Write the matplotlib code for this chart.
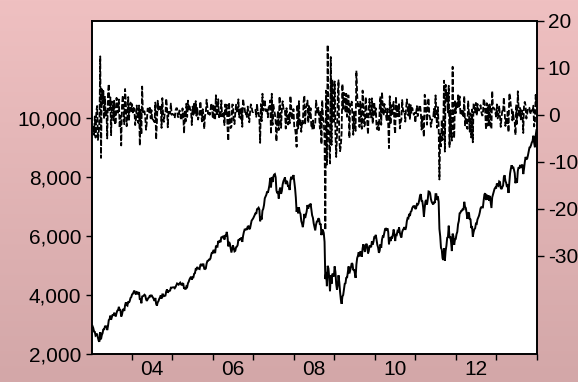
import numpy as np
import pandas as pd
import matplotlib
matplotlib.use("Agg")
import matplotlib.pyplot as plt
import matplotlib.dates as mdates
from matplotlib.colors import LinearSegmentedColormap
from matplotlib.ticker import FuncFormatter, FixedLocator

plt.rcParams["font.family"] = ["Liberation Sans", "DejaVu Sans"]
plt.rcParams["axes.unicode_minus"] = False

# ── Weekly index closes (one list per year) ──────────────────────────────────
idx_2003 = [2950, 2880, 2760, 2750, 2620, 2640, 2690, 2550, 2450, 2420, 2740, 2500,
            2640, 2704, 2845, 2820, 2930, 2925, 2955, 2810, 2950, 3150, 3180, 3300,
            3160, 3250, 3340, 3300, 3400, 3330, 3270, 3390, 3470, 3485, 3600, 3500,
            3490, 3270, 3330, 3470, 3530, 3460, 3655, 3750, 3660, 3640, 3780, 3740,
            3800, 3900, 3930]
idx_2004 = [4020, 4040, 4100, 4150, 4060, 4020, 4100, 4090, 4020, 4100, 3840, 3880,
            3720, 3950, 3960, 3980, 4010, 3985, 3860, 3800, 3850, 3900, 3920, 3990,
            3960, 4000, 3950, 3910, 3860, 3800, 3900, 3700, 3640, 3750, 3790, 3870,
            3920, 3990, 3880, 4020, 4020, 3960, 3970, 3980, 4120, 4190, 4080, 4120,
            4140, 4150, 4250, 4250, 4256]
idx_2005 = [4260, 4260, 4230, 4270, 4330, 4390, 4370, 4350, 4390, 4420, 4370, 4330,
            4390, 4380, 4210, 4250, 4190, 4290, 4270, 4400, 4450, 4530, 4580, 4620,
            4520, 4600, 4600, 4720, 4740, 4880, 4870, 4950, 4900, 4890, 4880, 5020,
            5050, 4980, 5040, 5040, 4890, 4880, 4900, 5060, 5150, 5160, 5200, 5200,
            5240, 5370, 5450, 5408]
idx_2006 = [5530, 5480, 5420, 5650, 5650, 5640, 5830, 5800, 5830, 5790, 5970, 5950,
            5970, 6010, 5880, 6010, 6010, 6140, 5970, 5650, 5800, 5740, 5580, 5440,
            5560, 5680, 5590, 5480, 5500, 5620, 5640, 5690, 5880, 5850, 5920, 5870,
            5950, 5800, 6000, 6130, 6220, 6220, 6240, 6210, 6320, 6330, 6230, 6260,
            6400, 6520, 6560, 6597]
idx_2007 = [6650, 6710, 6780, 6750, 6910, 6930, 6960, 6900, 6500, 6650, 6560, 6860,
            6920, 7050, 7280, 7340, 7400, 7510, 7470, 7590, 7730, 7970, 7650, 8000,
            7830, 8010, 8080, 8100, 7990, 7550, 7450, 7510, 7270, 7560, 7640, 7430,
            7530, 7750, 7860, 7920, 7990, 7760, 7870, 7830, 7670, 7700, 7560, 7870,
            8010, 7930, 7970, 8067]
idx_2008 = [7850, 7620, 7300, 6820, 6970, 6770, 6970, 6810, 6750, 6510, 6420, 6300,
            6480, 6750, 6610, 6720, 6840, 7050, 6930, 7060, 7000, 7100, 6900, 6700,
            6620, 6430, 6310, 6190, 6380, 6490, 6500, 6600, 6570, 6380, 6420, 6030,
            6220, 6190, 6100, 5800, 4540, 4780, 4300, 4990, 4900, 4580, 4130, 4670,
            4380, 4720, 4700, 4630]
idx_2009 = [4970, 4780, 4370, 4180, 4340, 4670, 4430, 4100, 3840, 3700, 3950, 4000,
            4190, 4380, 4400, 4600, 4580, 4770, 4970, 4730, 4840, 4940, 5080, 5050,
            4840, 4870, 4740, 4580, 5030, 5250, 5330, 5450, 5310, 5460, 5460, 5300,
            5580, 5720, 5580, 5460, 5670, 5740, 5640, 5410, 5490, 5680, 5650, 5620,
            5820, 5710, 5800, 5960]
idx_2010 = [5957, 6040, 5880, 5700, 5610, 5430, 5500, 5720, 5600, 5880, 5990, 5980,
            6120, 6240, 6250, 6180, 6260, 6140, 5720, 5950, 5830, 5950, 5940, 6050,
            6220, 6070, 5830, 6060, 6040, 6170, 6150, 6290, 6110, 6010, 5950, 6140,
            6210, 6250, 6300, 6210, 6290, 6500, 6610, 6600, 6750, 6680, 6820, 6850,
            6950, 7000, 7000, 7030, 6914]
idx_2011 = [6950, 7080, 7060, 7100, 7220, 7370, 7420, 7190, 7180, 6980, 6660, 6950,
            7180, 7220, 7070, 7250, 7510, 7500, 7450, 7260, 7160, 7110, 7070, 7160,
            7120, 7420, 7420, 7220, 7340, 7160, 6240, 5990, 5600, 5540, 5250, 5190,
            5580, 5160, 5500, 5670, 5940, 5970, 6350, 5930, 5990, 5800, 5490, 6080,
            5990, 5700, 5880, 5900]
idx_2012 = [6060, 6140, 6400, 6510, 6770, 6790, 6850, 6860, 6920, 6880, 7160, 6990,
            6950, 6780, 6580, 6770, 6800, 6560, 6580, 6270, 6340, 5980, 6130, 6230,
            6260, 6420, 6410, 6560, 6630, 6690, 6800, 6940, 6980, 6970, 6970, 7210,
            7410, 7450, 7220, 7400, 7230, 7380, 7200, 7360, 7160, 6950, 7310, 7410,
            7520, 7600, 7640, 7610]
idx_2013 = [7780, 7720, 7700, 7850, 7830, 7630, 7590, 7660, 7710, 8000, 8060, 7870,
            7800, 7660, 7740, 7460, 7810, 8120, 8280, 8400, 8300, 8350, 8250, 8130,
            7790, 7960, 7810, 8210, 8330, 8290, 8410, 8310, 8390, 8420, 8100, 8280,
            8510, 8680, 8610, 8620, 8730, 8870, 9000, 9010, 9080, 9170, 9220, 9400,
            9170, 9010, 9400, 9590]

year_ticks = [2004, 2006, 2008, 2010, 2012]
year_labels = ["04", "06", "08", "10", "12"]

close = np.array(idx_2003 + idx_2004 + idx_2005 + idx_2006 + idx_2007 + idx_2008
                 + idx_2009 + idx_2010 + idx_2011 + idx_2012 + idx_2013, dtype=float)
dates = pd.date_range("2003-01-13", periods=len(close), freq="W-MON")
# weekly log return in percent (right axis)
ret = 100 * np.diff(np.log(close))

# ── Figure with pink gradient background ─────────────────────────────────────
fig = plt.figure(figsize=(5.78, 3.82), dpi=100)
bg = fig.add_axes([0, 0, 1, 1], zorder=-10)
bg_cmap = LinearSegmentedColormap.from_list("bg", ["#efc0c1", "#d3a7a8"])
bg.imshow(np.linspace(0, 1, 256)[:, None], aspect="auto", cmap=bg_cmap,
          extent=[0, 1, 0, 1])
bg.set_axis_off()

ax = fig.add_axes([0.160, 0.0733, 0.7685, 0.8725])
ax.set_facecolor("white")
ax.plot(dates, close, color="black", lw=1.4, solid_joinstyle="miter")

ax2 = ax.twinx()
ax2.plot(dates[1:], ret, color="black", lw=1.3, linestyle=(0, (3.0, 1.2)))

ax.set_xlim(dates[0], pd.Timestamp("2014-01-01"))
ax.set_ylim(2000, 13300)
ax2.set_ylim(-50.85, 20)

ax.set_yticks([2000, 4000, 6000, 8000, 10000])
ax.yaxis.set_major_formatter(FuncFormatter(lambda v, p: f"{v:,.0f}"))
ax2.set_yticks([-30, -20, -10, 0, 10, 20])
ax2.yaxis.set_major_formatter(FuncFormatter(lambda v, p: f"{v:.0f}"))

# year boundaries get tick marks, labels sit mid-year
ax.xaxis.set_major_locator(FixedLocator(
    [mdates.date2num(pd.Timestamp(f"{y}-01-01")) for y in range(2004, 2015)]))
ax.xaxis.set_major_formatter(FuncFormatter(lambda v, p: ""))
ax.xaxis.set_minor_locator(FixedLocator(
    [mdates.date2num(pd.Timestamp(f"{y}-07-02")) for y in year_ticks]))
ax.xaxis.set_minor_formatter(FuncFormatter(
    lambda v, p: year_labels[p] if p is not None and p < len(year_labels) else ""))

ax.tick_params(axis="x", which="major", direction="out", length=4.5, width=1,
               bottom=True, top=False)
ax.tick_params(axis="x", which="minor", length=0, labelsize=15, pad=4)
ax.tick_params(axis="y", direction="out", length=4.5, width=1, labelsize=15,
               pad=3.5, right=False)
ax2.tick_params(axis="y", direction="out", length=5, width=1, labelsize=15, pad=3)

for a in (ax, ax2):
    for s in a.spines.values():
        s.set_linewidth(1.2)
        s.set_color("black")

fig.savefig("out.png", dpi=100)
